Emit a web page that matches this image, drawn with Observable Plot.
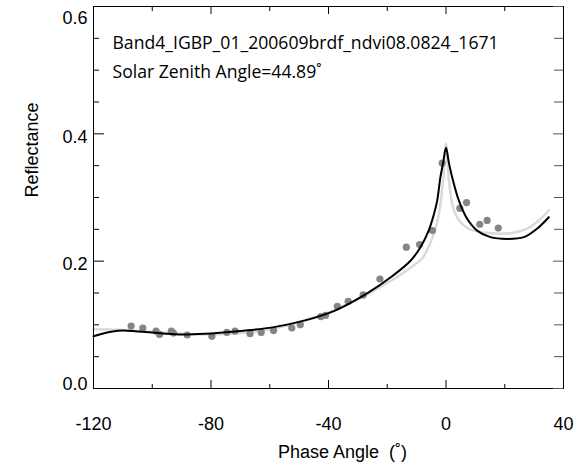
<!DOCTYPE html>
<html>
<head>
<meta charset="utf-8">
<script src="https://cdn.jsdelivr.net/npm/d3@7"></script>
<script src="https://cdn.jsdelivr.net/npm/@observablehq/plot@0.6"></script>
<style>
  html, body { margin: 0; padding: 0; background: #fff; }
</style>
</head>
<body>
<div id="chart"></div>
<script>
// ---- data ----
const titleText = "Band4_IGBP_01_200609brdf_ndvi08.0824_1671";
const zenithText = "Solar Zenith Angle=44.89˚";
const xLabel = "Phase Angle  (˚)";
const yLabel = "Reflectance";

const xMajorTicks = [-120, -80, -40, 0, 40];
const xMinorTicks = [-100, -60, -20, 20];
const yMajorTicks = [0, 0.2, 0.4, 0.6];
const yMinorTicks = [0.05, 0.1, 0.15, 0.25, 0.3, 0.35, 0.45, 0.5, 0.55];

// observed reflectances (gray dots)
const obsPhase = [-107.2, -103.2, -98.7, -97.5, -93.5, -92.8, -88.1, -79.7, -74.6, -71.8, -66.7, -62.9, -58.7, -52.5, -49.6, -42.6, -41.0, -37.0, -33.3, -28.2, -22.5, -13.5, -9.0, -4.6, -1.3, 4.7, 7.0, 11.5, 14.0, 17.8];
const obsRefl  = [0.098, 0.095, 0.090, 0.085, 0.090, 0.087, 0.084, 0.082, 0.088, 0.090, 0.086, 0.088, 0.091, 0.095, 0.100, 0.113, 0.115, 0.129, 0.137, 0.147, 0.172, 0.222, 0.226, 0.248, 0.354, 0.283, 0.292, 0.258, 0.264, 0.252];

// model curve 1 (black)
const fitPhase = [-120, -117, -114, -110, -105, -100, -91, -82, -70, -59, -48, -38, -27, -18, -12, -8.7, -5.9, -4.1, -3, -1.9, -1, 0, 1, 2.1, 4.4, 7.2, 10.6, 15.1, 20.8, 26.5, 31, 35];
const fitRefl  = [0.082, 0.086, 0.089, 0.091, 0.0895, 0.088, 0.085, 0.086, 0.0905, 0.096, 0.107, 0.122, 0.149, 0.1775, 0.201, 0.222, 0.248, 0.274, 0.295, 0.332, 0.354, 0.378, 0.354, 0.332, 0.295, 0.2665, 0.248, 0.2377, 0.235, 0.2377, 0.251, 0.269];

// model curve 2 (light gray)
const fit2Phase = [-120, -110, -100, -90, -80, -70, -60, -50, -40, -30, -26, -20, -17, -12, -8, -6, -4, -2.4, -1, 0, 1, 2.7, 5.5, 9.5, 15.1, 21.9, 27.6, 32.2, 35];
const fit2Refl  = [0.093, 0.092, 0.089, 0.086, 0.085, 0.087, 0.093, 0.104, 0.119, 0.140, 0.150, 0.166, 0.174, 0.190, 0.205, 0.222, 0.245, 0.274, 0.327, 0.385, 0.327, 0.280, 0.2587, 0.248, 0.244, 0.244, 0.251, 0.2665, 0.280];

const obs  = obsPhase.map((p, i) => ({phase: p, refl: obsRefl[i]}));
const fit  = fitPhase.map((p, i) => ({phase: p, refl: fitRefl[i]}));
const fit2 = fit2Phase.map((p, i) => ({phase: p, refl: fit2Refl[i]}));

const W = 578, H = 475, ML = 93, MR = 15, MT = 6, MB = 87;
const FW = W - ML - MR, FH = H - MT - MB;
const axFont = "Liberation Sans, Arial, sans-serif";
const annFont = "Open Sans, Noto Sans, sans-serif";
const fmtX = d => String(d);
const fmtY = d3.format(".1f");

const chart = Plot.plot({
  width: W,
  height: H,
  marginLeft: ML,
  marginRight: MR,
  marginTop: MT,
  marginBottom: MB,
  style: {fontFamily: axFont, fontSize: "18px", background: "#fff", color: "#000"},
  x: {domain: [-120, 40], axis: null},
  y: {domain: [0, 0.6], axis: null},
  marks: [
    // curves and points
    Plot.line(fit2, {x: "phase", y: "refl", stroke: "#dadada", strokeWidth: 2.5, curve: "catmull-rom"}),
    Plot.dot(obs, {x: "phase", y: "refl", r: 3.6, fill: "#858585", stroke: "none"}),
    Plot.line(fit, {x: "phase", y: "refl", stroke: "#000", strokeWidth: 2, curve: "catmull-rom"}),

    // frame
    Plot.frame({stroke: "#000", strokeWidth: 1}),

    // inward ticks on all four sides
    Plot.tickX(xMajorTicks, {x: d => d, insetTop: FH - 8, stroke: "#000"}),
    Plot.tickX(xMinorTicks, {x: d => d, insetTop: FH - 4, stroke: "#000"}),
    Plot.tickX(xMajorTicks, {x: d => d, insetBottom: FH - 8, stroke: "#000"}),
    Plot.tickX(xMinorTicks, {x: d => d, insetBottom: FH - 5, stroke: "#000"}),
    Plot.tickY(yMajorTicks, {y: d => d, insetRight: FW - 11, stroke: "#000"}),
    Plot.tickY(yMinorTicks, {y: d => d, insetRight: FW - 6, stroke: "#000"}),
    Plot.tickY(yMajorTicks, {y: d => d, insetLeft: FW - 10, stroke: "#555"}),
    Plot.tickY(yMinorTicks, {y: d => d, insetLeft: FW - 9, stroke: "#555"}),

    // tick labels
    Plot.axisX({anchor: "bottom", ticks: xMajorTicks, tickSize: 0, tickPadding: 29, tickFormat: fmtX, label: null, fontSize: 18, fontFamily: axFont}),
    Plot.axisY({anchor: "left", ticks: [0], tickSize: 0, tickPadding: 6, dy: -4, tickFormat: fmtY, label: null, fontSize: 18, fontFamily: axFont}),
    Plot.axisY({anchor: "left", ticks: [0.2, 0.4], tickSize: 0, tickPadding: 6, dy: 3, tickFormat: fmtY, label: null, fontSize: 18, fontFamily: axFont}),
    Plot.axisY({anchor: "left", ticks: [0.6], tickSize: 0, tickPadding: 6, dy: 12, tickFormat: fmtY, label: null, fontSize: 18, fontFamily: axFont}),

    // axis titles
    Plot.text([xLabel], {text: d => d, frameAnchor: "bottom", dx: 14, dy: 64, fontSize: 18, lineAnchor: "middle", fontFamily: axFont}),
    Plot.text([yLabel], {text: d => d, frameAnchor: "left", dx: -61, rotate: -90, fontSize: 18, lineAnchor: "middle", fontFamily: axFont}),

    // annotations
    Plot.text([titleText], {text: d => d, frameAnchor: "top-left", textAnchor: "start", lineAnchor: "middle", dx: 19, dy: 37, fontSize: 17.6, fontFamily: annFont}),
    Plot.text([zenithText], {text: d => d, frameAnchor: "top-left", textAnchor: "start", lineAnchor: "middle", dx: 19, dy: 66, fontSize: 17.6, fontFamily: annFont})
  ]
});

document.getElementById("chart").appendChild(chart);
</script>
</body>
</html>
